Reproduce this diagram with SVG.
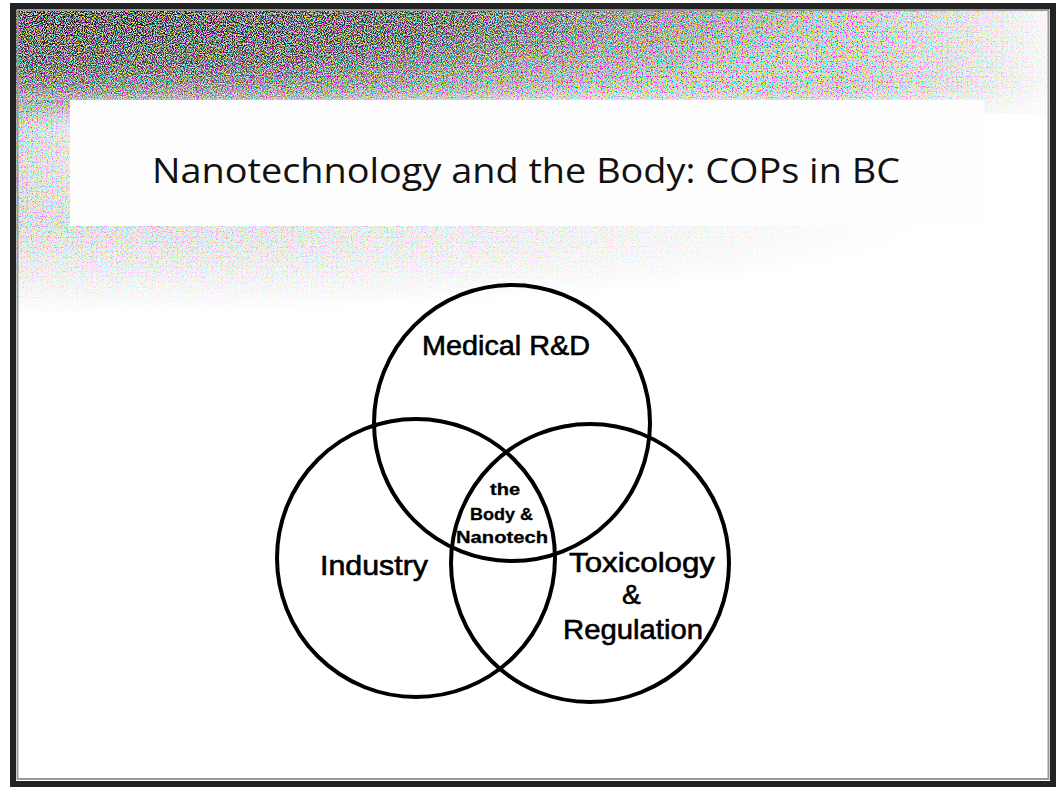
<svg xmlns="http://www.w3.org/2000/svg" width="1058" height="787" viewBox="0 0 1058 787">
<style>
.circ{fill:none;stroke:#000;stroke-width:4}
.lbl{font-family:"Liberation Sans",Arial,sans-serif;fill:#000;stroke:#000;stroke-width:0.6}
.big{font-size:28px}
.small{font-size:17px;font-weight:bold;stroke-width:0.3}
.title{font-family:"Open Sans","Noto Sans",sans-serif;font-size:35px;fill:#111}
</style>
<defs>
<filter id="noise" filterUnits="userSpaceOnUse" x="0" y="0" width="1058" height="400">
<feTurbulence type="fractalNoise" baseFrequency="0.8" numOctaves="1" seed="7" result="t"/>
<feColorMatrix in="t" type="matrix" values="3.2 -1.3 -1.3 0 0.35  -1.3 3.2 -1.3 0 0.35  -1.3 -1.3 3.2 0 0.35  0 0 0 0 1"/>
</filter>
<filter id="specks" filterUnits="userSpaceOnUse" x="0" y="0" width="1058" height="400">
<feTurbulence type="fractalNoise" baseFrequency="0.9" numOctaves="1" seed="21" result="t"/>
<feColorMatrix in="t" type="matrix" values="0 0 0 0 0  0 0 0 0 0  0 0 0 0 0  5 0 0 0 -2.1"/>
</filter>
<linearGradient id="vTop" x1="0" y1="0" x2="0" y2="1">
<stop offset="0" stop-color="#fff"/>
<stop offset="0.75" stop-color="#fff"/>
<stop offset="1" stop-color="#fff" stop-opacity="0.25"/>
</linearGradient>
<linearGradient id="hTop" x1="0" y1="0" x2="1" y2="0">
<stop offset="0" stop-color="#fff"/>
<stop offset="0.8" stop-color="#fff" stop-opacity="0.9"/>
<stop offset="1" stop-color="#fff" stop-opacity="0.1"/>
</linearGradient>
<radialGradient id="below" cx="0" cy="0" r="1" gradientUnits="userSpaceOnUse" gradientTransform="translate(20 225) scale(900 90)">
<stop offset="0" stop-color="#fff" stop-opacity="0.55"/>
<stop offset="0.5" stop-color="#fff" stop-opacity="0.3"/>
<stop offset="1" stop-color="#fff" stop-opacity="0"/>
</radialGradient>
<radialGradient id="darkG" cx="0" cy="0" r="1" gradientUnits="userSpaceOnUse" gradientTransform="translate(60 6) scale(800 120)">
<stop offset="0" stop-color="#fff" stop-opacity="1"/>
<stop offset="0.5" stop-color="#fff" stop-opacity="0.75"/>
<stop offset="1" stop-color="#fff" stop-opacity="0"/>
</radialGradient>
<radialGradient id="leftG" cx="0" cy="0" r="1" gradientUnits="userSpaceOnUse" gradientTransform="translate(13 100) scale(120 140)">
<stop offset="0" stop-color="#fff" stop-opacity="0.9"/>
<stop offset="1" stop-color="#fff" stop-opacity="0"/>
</radialGradient>
<mask id="mV" maskUnits="userSpaceOnUse" x="0" y="0" width="1058" height="787">
<rect x="13" y="6" width="1040" height="108" fill="url(#vTop)"/>
</mask>
<mask id="mH" maskUnits="userSpaceOnUse" x="0" y="0" width="1058" height="787">
<rect x="13" y="6" width="1040" height="120" fill="url(#hTop)"/>
</mask>
<mask id="mBelow" maskUnits="userSpaceOnUse" x="0" y="0" width="1058" height="787">
<rect x="13" y="100" width="1040" height="230" fill="url(#below)"/>
<rect x="13" y="100" width="200" height="200" fill="url(#leftG)"/>
</mask>
<mask id="mDark" maskUnits="userSpaceOnUse" x="0" y="0" width="1058" height="787">
<rect x="13" y="6" width="1040" height="230" fill="url(#darkG)"/>
</mask>
</defs>
<rect width="1058" height="787" fill="#fff"/>
<g id="background">
<g mask="url(#mH)">
<rect x="13" y="6" width="1040" height="108" filter="url(#noise)" mask="url(#mV)"/>
</g>
<rect x="13" y="100" width="1040" height="230" filter="url(#noise)" mask="url(#mBelow)"/>
<rect x="13" y="6" width="1040" height="230" filter="url(#specks)" mask="url(#mDark)"/>
</g>
<g id="title">
<rect x="70" y="100" width="914" height="126" fill="#fdfdfd"/>
<text class="title" x="152" y="183" textLength="748" lengthAdjust="spacingAndGlyphs">Nanotechnology and the Body: COPs in BC</text>
</g>
<g id="frame">
<rect x="13" y="6" width="1040" height="778" fill="none" stroke="#222" stroke-width="6"/>
<rect x="17.5" y="10" width="1031" height="769" fill="none" stroke="#999" stroke-width="2"/>
</g>
<g id="medical">
<circle class="circ" cx="512" cy="423" r="138"/>
<text class="lbl big" x="422" y="355" textLength="168" lengthAdjust="spacingAndGlyphs">Medical R&amp;D</text>
</g>
<g id="industry">
<circle class="circ" cx="416" cy="558" r="139"/>
<text class="lbl big" x="320" y="575" textLength="108" lengthAdjust="spacingAndGlyphs">Industry</text>
</g>
<g id="toxicology">
<circle class="circ" cx="590" cy="563" r="139"/>
<text class="lbl big" x="569" y="572" textLength="146" lengthAdjust="spacingAndGlyphs">Toxicology</text>
<text class="lbl big" x="622" y="604">&amp;</text>
<text class="lbl big" x="563" y="639" textLength="140" lengthAdjust="spacingAndGlyphs">Regulation</text>
</g>
<g id="center">
<text class="lbl small" x="490" y="495" textLength="30" lengthAdjust="spacingAndGlyphs">the</text>
<text class="lbl small" x="470" y="520" textLength="63" lengthAdjust="spacingAndGlyphs">Body &amp;</text>
<text class="lbl small" x="456" y="543" textLength="92" lengthAdjust="spacingAndGlyphs">Nanotech</text>
</g>
<g id="connectors"/>
</svg>
